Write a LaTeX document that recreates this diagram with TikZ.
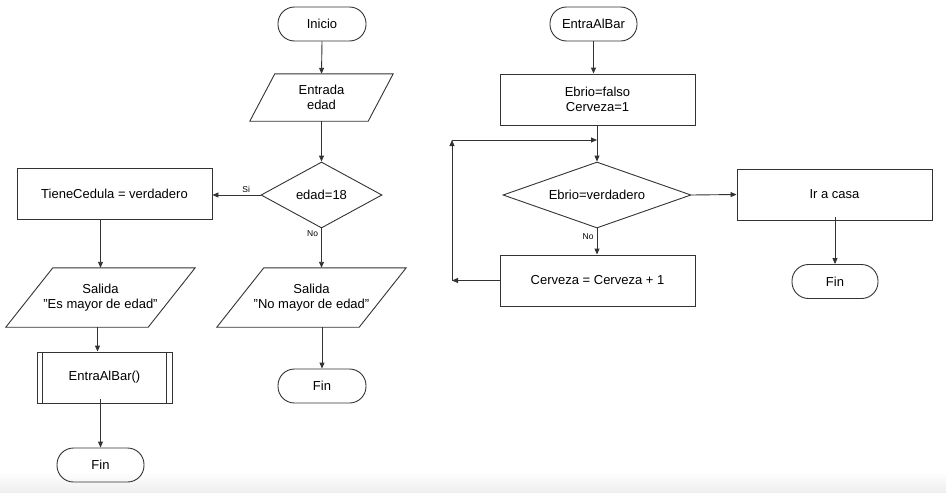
\documentclass[tikz,border=0pt]{standalone}
\usepackage{fontspec}
\setmainfont{Liberation Sans}
\usetikzlibrary{arrows.meta,shapes.geometric,calc}
\definecolor{ln}{HTML}{333333}
\tikzset{
  every node/.style={font=\fontsize{13}{15}\selectfont, align=center, inner sep=0pt},
  term/.style={draw=ln, line width=0.9pt, rounded corners=16.5pt, minimum height=34pt},
  procbox/.style={draw=ln, line width=0.9pt, minimum width=195pt, minimum height=51pt},
  decis/.style={draw=ln, line width=0.9pt, diamond, aspect=1.8},
  iobox/.style={minimum height=47pt},
  arr/.style={draw=ln, line width=0.9pt, -{Triangle[length=6pt,width=5pt]}},
  plain/.style={draw=ln, line width=0.9pt},
  lbl/.style={font=\fontsize{8.5}{10}\selectfont}
}
\begin{document}
\begin{tikzpicture}[x=1pt,y=-1pt]
\useasboundingbox (0,0) rectangle (946,493);
\fill[white] (0,0) rectangle (946,493);
\shade[top color=white, bottom color=black!7] (0,472) rectangle (946,493);

% ---- main flow ----
\node[term, minimum width=88pt] (inicio) at (322,24) {Inicio};
\node[minimum width=143pt, minimum height=47pt] (entrada) at (321.5,97.5) {Entrada\\edad};
\draw[plain] ([xshift=25pt]entrada.north west) -- (entrada.north east)
  -- ([xshift=-25pt]entrada.south east) -- (entrada.south west) -- cycle;
\node[draw=ln, line width=0.9pt, diamond, minimum width=121pt, minimum height=66pt, aspect=1.83] (d1) at (321.5,195) {edad=18};
\node[procbox] (tc) at (114.5,194) {TieneCedula = verdadero};

\node[minimum width=189pt, minimum height=59pt] (sal1) at (100.5,297.5) {Salida\\"Es mayor de edad"};
\draw[plain] ([xshift=47pt]sal1.north west) -- (sal1.north east)
  -- ([xshift=-47pt]sal1.south east) -- (sal1.south west) -- cycle;
\node[minimum width=189pt, minimum height=59pt] (sal2) at (311.5,297.5) {Salida\\"No mayor de edad"};
\draw[plain] ([xshift=47pt]sal2.north west) -- (sal2.north east)
  -- ([xshift=-47pt]sal2.south east) -- (sal2.south west) -- cycle;

\node[draw=ln, line width=0.9pt, minimum width=135pt, minimum height=51pt] (sub) at (104.5,377.5) {EntraAlBar()};
\draw[plain] ([xshift=6pt]sub.north west) -- ([xshift=6pt]sub.south west);
\draw[plain] ([xshift=-6pt]sub.north east) -- ([xshift=-6pt]sub.south east);

\node[term, minimum width=87pt] (fin1) at (100.5,465) {Fin};
\node[term, minimum width=88pt] (fin2) at (322,386) {Fin};

\draw[arr] (inicio.south) -- (entrada.north);
\draw[arr] (entrada.south) -- (d1.north);
\draw[arr] (d1.west) -- (d1.west -| tc.east) node[lbl, pos=0.3, above=2pt] {Si};
\draw[arr] (d1.south) -- (d1.south |- sal2.north) node[lbl, pos=0.12, left=3pt] {No};
\draw[arr] (sal2.south -| fin2.north) -- (fin2.north);
\draw[arr] (tc.south -| sal1.north) -- (sal1.north);
\draw[arr] ([xshift=-3pt]sal1.south) -- ([xshift=-3pt]sal1.south |- sub.north);
\draw[arr] ([yshift=4pt]sub.south -| fin1.north) -- (fin1.north);

% ---- EntraAlBar flow ----
\node[term, minimum width=87pt] (eab) at (593.5,24) {EntraAlBar};
\node[procbox] (init) at (597.5,99.5) {Ebrio=falso\\Cerveza=1};
\node[draw=ln, line width=0.9pt, diamond, minimum width=188pt, minimum height=66pt, aspect=2.85] (d2) at (597,195) {Ebrio=verdadero};
\node[procbox] (inc) at (597.5,280.5) {Cerveza = Cerveza + 1};
\node[procbox] (casa) at (834.5,194.5) {Ir a casa};
\node[term, minimum width=86pt] (fin3) at (835,281.5) {Fin};

\coordinate (lb) at (452,280.5);
\coordinate (lt) at (452,140);
\coordinate (jn) at (597,140);

\draw[arr] (eab.south) -- (eab.south |- init.north);
\draw[arr] (init.south -| d2.north) -- (d2.north);
\draw[arr] (d2.east) -- (casa.west);
\draw[arr] (d2.south) -- (d2.south |- inc.north) node[lbl, pos=0.3, left=3pt] {No};
\draw[arr] (inc.west) -- (lb);
\draw[arr] (lb) -- (lt);
\draw[arr] (lt) -- (jn);
\draw[arr] ([yshift=3pt]casa.south -| fin3.north) -- (fin3.north);
\end{tikzpicture}
\end{document}
